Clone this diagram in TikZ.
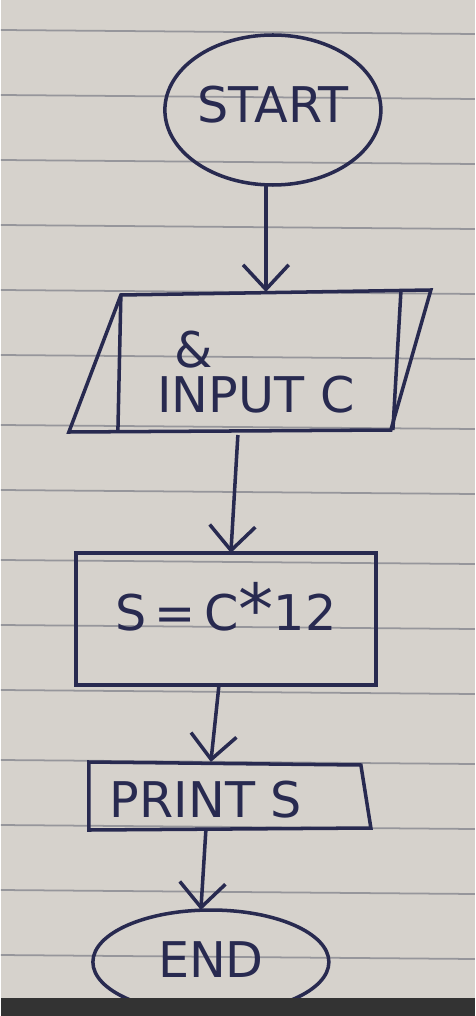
\documentclass[tikz,border=0pt]{standalone}
\usepackage{fontspec}
\setmainfont{DejaVu Sans}
\usetikzlibrary{shapes.geometric,arrows.meta}
\definecolor{ink}{RGB}{40,42,80}
\definecolor{paper}{RGB}{214,210,204}
\definecolor{rule}{RGB}{150,150,155}
\tikzset{
  box/.style={draw=ink, line width=2pt},
  flow/.style={draw=ink, line width=2pt, -{Straight Barb[length=14pt,width=26pt]}},
  txt/.style={text=ink, font=\fontsize{28}{32}\selectfont}
}
\begin{document}
\begin{tikzpicture}[x=0.02cm,y=-0.02cm]
    % paper
    \fill[paper] (0,0) rectangle (474,1016);
    \foreach \y in {30,95,160,225,290,355,425,490,560,625,690,760,825,890,955}
      \draw[rule, line width=1pt] (0,\y) -- (474,\y+4);

    % start
    \draw[box] (272,110) ellipse [x radius=108, y radius=75];
    \node[txt] (start) at (272,105) {START};
    \coordinate (s1) at (265,185);

    % input
    \draw[box] (120,295) -- (430,290) -- (390,430) -- (68,432) -- cycle;
    \draw[box] (120,295) -- (117,432);
    \draw[box] (400,292) -- (392,430);
    \node[txt] (amp) at (193,350) {\&};
    \node[txt] (input) at (255,395) {INPUT C};
    \coordinate (in1) at (265,292);
    \coordinate (in2) at (237,435);

    % process
    \draw[box] (75,553) rectangle (375,685);
    \node[txt] (calc) at (225,608) {S\,=\,C\raisebox{-2pt}{\fontsize{40}{40}\selectfont*}12};
    \coordinate (p1) at (230,553);
    \coordinate (p2) at (218,686);

    % print
    \draw[box] (88,762) -- (360,765) -- (370,828) -- (88,830) -- cycle;
    \node[txt] (print) at (205,800) {PRINT S};
    \coordinate (o1) at (210,762);
    \coordinate (o2) at (205,830);

    % end
    \draw[box] (210,962) ellipse [x radius=118, y radius=52];
    \node[txt] (end) at (210,960) {END};
    \coordinate (e1) at (200,910);

    % arrows
    \draw[flow] (s1) -- (in1);
    \draw[flow] (in2) -- (p1);
    \draw[flow] (p2) -- (o1);
    \draw[flow] (o2) -- (e1);

    % bottom edge
    \fill[black!80] (0,998) rectangle (474,1016);
\end{tikzpicture}
\end{document}
